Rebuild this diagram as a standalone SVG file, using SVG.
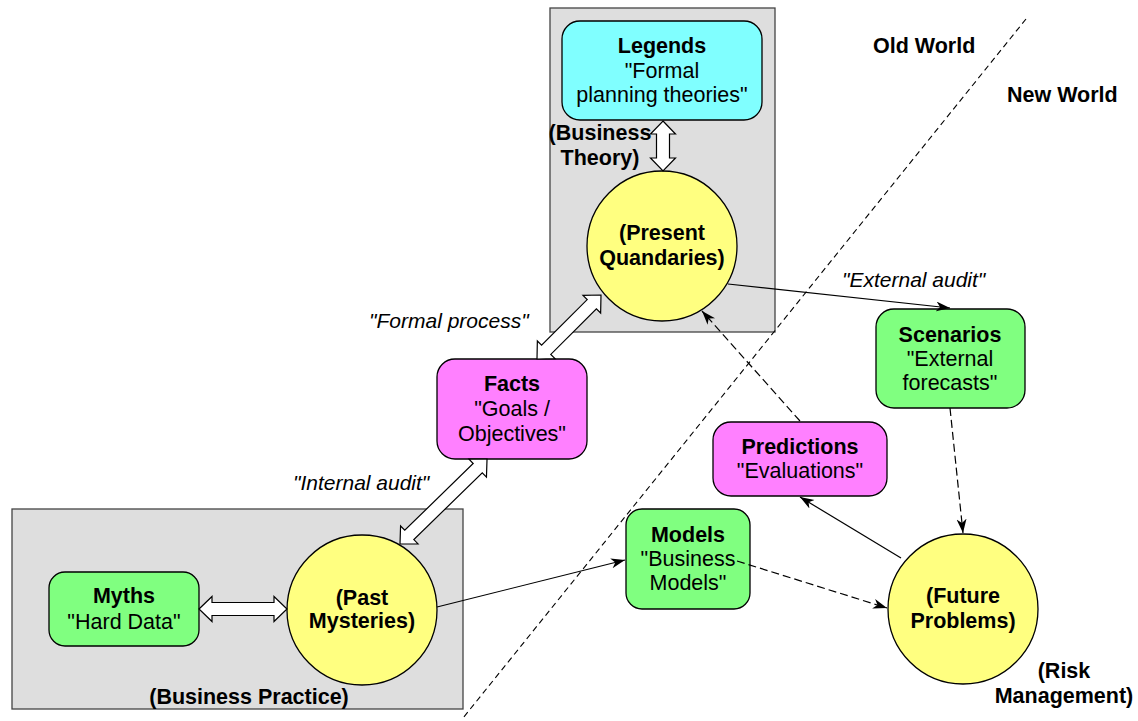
<svg xmlns="http://www.w3.org/2000/svg" width="1138" height="721" viewBox="0 0 1138 721">
<style>
text{font-family:"Liberation Sans",Arial,sans-serif;font-size:21.5px;fill:#000}
.b{font-weight:bold}
.i{font-style:italic;font-size:21px}
.m{text-anchor:middle}
.area{fill:#dedede;stroke:#444;stroke-width:1.3}
.box{stroke:#000;stroke-width:1.3}
.cyan{fill:#80ffff}
.pink{fill:#ff80ff}
.green{fill:#80ff80}
.yel{fill:#ffff80;stroke:#000;stroke-width:1.3}
.ln{fill:none;stroke:#000;stroke-width:1.2}
.dash{stroke-dasharray:8 4}
.dbl{fill:#fff;stroke:#000;stroke-width:1.2;stroke-linejoin:miter}
</style>
<defs>
<marker id="ah" markerUnits="userSpaceOnUse" markerWidth="15" markerHeight="11" refX="14" refY="5" orient="auto">
<path d="M0,0 L14,5 L0,10 L4,5 z" fill="#000"/>
</marker>
</defs>
<rect width="1138" height="721" fill="#fff"/>
<g id="areas">
<rect id="theory-area" class="area" x="550" y="8" width="225" height="324"/>
<rect id="practice-area" class="area" x="12" y="509" width="451" height="200"/>
<line id="divider" x1="1026" y1="19" x2="463" y2="718" stroke="#000" stroke-width="1.1" stroke-dasharray="6 4"/>
<text class="b" x="873" y="53">Old World</text>
<text class="b" x="1007" y="102">New World</text>
<text class="b m" x="600" y="140">(Business</text>
<text class="b m" x="600" y="165">Theory)</text>
<text class="b m" x="249" y="704">(Business Practice)</text>
<text class="b m" x="1064" y="678">(Risk</text>
<text class="b m" x="1064" y="703">Management)</text>
</g>
<g id="legends">
<rect class="box cyan" x="562" y="21" width="200" height="99" rx="18"/>
<text class="b m" x="662" y="53">Legends</text>
<text class="m" x="662" y="78">"Formal</text>
<text class="m" x="662" y="102">planning theories"</text>
</g>
<g id="present">
<circle class="yel" cx="662" cy="246" r="75"/>
<text class="b m" x="662" y="240">(Present</text>
<text class="b m" x="662" y="265">Quandaries)</text>
</g>
<g id="facts">
<rect class="box pink" x="437" y="359" width="150" height="100" rx="18"/>
<text class="b m" x="512" y="391">Facts</text>
<text class="m" x="512" y="416">"Goals /</text>
<text class="m" x="512" y="441">Objectives"</text>
</g>
<g id="myths">
<rect class="box green" x="49" y="572" width="150" height="74" rx="16"/>
<text class="b m" x="124" y="603">Myths</text>
<text class="m" x="124" y="629">"Hard Data"</text>
</g>
<g id="past">
<circle class="yel" cx="362" cy="610" r="75"/>
<text class="b m" x="362" y="605">(Past</text>
<text class="b m" x="362" y="628">Mysteries)</text>
</g>
<g id="scenarios">
<rect class="box green" x="876" y="309" width="149" height="99" rx="18"/>
<text class="b m" x="950" y="342">Scenarios</text>
<text class="m" x="950" y="366">"External</text>
<text class="m" x="950" y="390">forecasts"</text>
</g>
<g id="predictions">
<rect class="box pink" x="713" y="422" width="174" height="74" rx="18"/>
<text class="b m" x="800" y="454">Predictions</text>
<text class="m" x="800" y="478">"Evaluations"</text>
</g>
<g id="models">
<rect class="box green" x="626" y="509" width="124" height="100" rx="16"/>
<text class="b m" x="688" y="542">Models</text>
<text class="m" x="688" y="566">"Business</text>
<text class="m" x="688" y="590">Models"</text>
</g>
<g id="future">
<circle class="yel" cx="963" cy="609" r="75"/>
<text class="b m" x="963" y="603">(Future</text>
<text class="b m" x="963" y="628">Problems)</text>
</g>
<g id="connectors">
<polygon class="dbl" points="663,121 675.5,134 669.5,134 669.5,158 675.5,158 663,171 650.5,158 656.5,158 656.5,134 650.5,134"/>
<polygon class="dbl" points="199,609 212,596.5 212,602.5 274,602.5 274,596.5 287,609 274,621.5 274,615.5 212,615.5 212,621.5"/>
<polygon class="dbl" transform="translate(537,359) rotate(-45)" points="0,0 13,-12.5 13,-6.5 77.5,-6.5 77.5,-12.5 90.5,0 77.5,12.5 77.5,6.5 13,6.5 13,12.5"/>
<polygon class="dbl" transform="translate(400,544) rotate(-44.3)" points="0,0 13,-12.5 13,-6.5 108.6,-6.5 108.6,-12.5 121.6,0 108.6,12.5 108.6,6.5 13,6.5 13,12.5"/>
<line class="ln" x1="728" y1="284" x2="950" y2="308" marker-end="url(#ah)"/>
<line class="ln dash" x1="950" y1="408" x2="963" y2="533" marker-end="url(#ah)"/>
<line class="ln" x1="901" y1="558" x2="800" y2="497" marker-end="url(#ah)"/>
<line class="ln dash" x1="800" y1="421" x2="702" y2="311" marker-end="url(#ah)"/>
<line class="ln" x1="437" y1="607" x2="625" y2="560" marker-end="url(#ah)"/>
<line class="ln dash" x1="737" y1="561" x2="887" y2="608" marker-end="url(#ah)"/>
<text class="i" x="842" y="287">"External audit"</text>
<text class="i" x="369" y="328">"Formal process"</text>
<text class="i" x="293" y="490">"Internal audit"</text>
</g>
</svg>
